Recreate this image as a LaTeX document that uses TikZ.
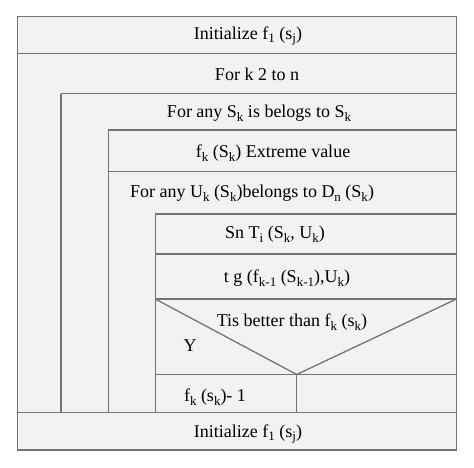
\documentclass[tikz,border=0pt]{standalone}
\usepackage{fontspec}
\setmainfont{Liberation Serif}
\tikzset{%
  line/.style={draw=black!55,line width=1.3pt},%
  label/.style={inner sep=0pt,outer sep=0pt,font=\fontsize{18}{20}\selectfont},%
}
\newcommand\sub[1]{\raisebox{-0.45ex}{\fontsize{13}{14}\selectfont #1}}
\begin{document}
\begin{tikzpicture}[x=1pt,y=-1pt]

%definitions
\def\XL{17.5} % outer left
\def\XR{456.5} % outer right
\def\XA{61} % first indent
\def\XB{108.3} % second indent
\def\XC{155.3} % third indent
\def\XM{296.7} % apex of condition
\useasboundingbox (0,0) rectangle (474,467);
\fill[black!5] (\XL,16.5) rectangle (\XR,450);
%frame and rows
\draw[line] (\XL,16.5) rectangle (\XR,450);
\draw[line] (\XL,53.5) -- (\XR,53.5);
\draw[line] (\XA,93.5) -- (\XR,93.5);
\draw[line] (\XB,130) -- (\XR,130);
\draw[line] (\XB,171.5) -- (\XR,171.5);
\draw[line] (\XC,214) -- (\XR,214);
\draw[line] (\XC,254) -- (\XR,254);
\draw[line] (\XC,299) -- (\XR,299);
\draw[line] (\XC,374.5) -- (\XR,374.5);
\draw[line] (\XL,412.5) -- (\XR,412.5);
%loops
\draw[line] (\XA,93.5) -- (\XA,412.5);
\draw[line] (\XB,130) -- (\XB,412.5);
\draw[line] (\XC,214) -- (\XC,412.5);
%condition
\draw[line] (\XC,299) -- (\XM,374.5) -- (\XR,299);
\draw[line] (\XM,374.5) -- (\XM,412.5);
%labels
\node[label] (init) at (248,36) {Initialize f\sub{1} (s\sub{j})};
\node[label] (fork) at (257,74) {For k 2 to n};
\node[label] (fors) at (259,113) {For any S\sub{k} is belogs to S\sub{k}};
\node[label] (ext) at (273,153) {f\sub{k} (S\sub{k}) Extreme value};
\node[label] (foru) at (252,193) {For any U\sub{k} (S\sub{k})belongs to D\sub{n} (S\sub{k})};
\node[label] (sn) at (275,234) {Sn T\sub{i} (S\sub{k}, U\sub{k})};
\node[label] (tg) at (287,278) {t g (f\sub{k-1} (S\sub{k-1}),U\sub{k})};
\node[label] (cond) at (292,322.5) {Tis better than f\sub{k} (s\sub{k})};
\node[label] (yes) at (190,346) {Y};
\node[label] (dec) at (215,397.5) {f\sub{k} (s\sub{k})- 1};
\node[label] (init2) at (248,434) {Initialize f\sub{1} (s\sub{j})};

\end{tikzpicture}
\end{document}
